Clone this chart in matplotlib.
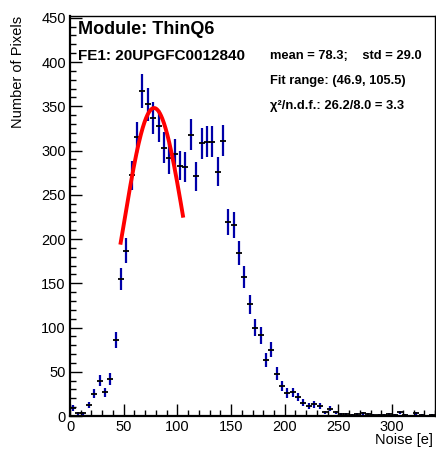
import numpy as np
import matplotlib
matplotlib.use("Agg")
import matplotlib.pyplot as plt
from matplotlib.ticker import MultipleLocator

plt.rcParams['font.family'] = ['Liberation Sans', 'DejaVu Sans']

# ---- data ----
bin_width = 5.0
bin_lo = 0.0
counts = [9, 3, 3, 12, 25, 40, 27, 42, 86, 155,
          187, 272, 315, 367, 352, 337, 328, 303, 291, 296,
          283, 281, 318, 271, 308, 310, 310, 276, 311, 219,
          216, 184, 157, 126, 100, 91, 63, 75, 48, 34,
          26, 27, 21, 15, 11, 13, 11, 4, 8, 4,
          2, 2, 1, 2, 3, 2, 1, 1, 1, 2,
          1, 4, 1, 0, 3, 1, 0, 1]
fit_amp = 348.0
fit_mean = 78.3
fit_sigma = 29.0
fit_range = (46.9, 105.5)
x_limits = (0, 340)
y_limits = (0, 452)
x_ticks = [0, 50, 100, 150, 200, 250, 300]
y_ticks = [0, 50, 100, 150, 200, 250, 300, 350, 400, 450]

W, H = 436, 455
fig = plt.figure(figsize=(W / 100, H / 100), dpi=100)

def fx(px):
    return px / W

def fy(py):
    return 1 - py / H

ax = fig.add_axes([fx(70), fy(416), fx(435) - fx(70), fy(16) - fy(416)])

counts = np.array(counts, dtype=float)
centers = bin_lo + bin_width * (np.arange(len(counts)) + 0.5)
mask = counts > 0
xc = centers[mask]
yc = counts[mask]
err = np.sqrt(yc)

ax.errorbar(xc, yc, yerr=err, fmt='none', ecolor='#0000a8', elinewidth=1.6, capsize=0, zorder=2)
ax.plot(xc, yc, ls='none', marker='_', color='black', ms=4, mew=1.3, zorder=3)

xf = np.linspace(fit_range[0], fit_range[1], 200)
yf = fit_amp * np.exp(-0.5 * ((xf - fit_mean) / fit_sigma) ** 2)
ax.plot(xf, yf, color='#ff0000', lw=2.8, zorder=4, solid_capstyle='butt')

ax.set_xlim(*x_limits)
ax.set_ylim(*y_limits)
ax.set_xticks(x_ticks)
ax.set_yticks(y_ticks)
ax.xaxis.set_minor_locator(MultipleLocator(10))
ax.yaxis.set_minor_locator(MultipleLocator(10))
ax.tick_params(which='both', direction='in', top=False, right=False, labelsize=10.5, width=1.0)
ax.tick_params(which='major', length=8.5, pad=3)
ax.tick_params(which='minor', length=4.3)
for s in ['left', 'bottom']:
    ax.spines[s].set_linewidth(1.6)
for s in ['top', 'right']:
    ax.spines[s].set_linewidth(1.0)

fig.text(fx(18), fy(16), 'Number of Pixels', rotation=90, ha='center', va='top', fontsize=10.5)
fig.text(fx(433), fy(440), 'Noise [e]', ha='right', va='center', fontsize=10.5)

fig.text(fx(78), fy(30), 'Module: ThinQ6', ha='left', va='center', fontsize=13, fontweight='bold')
fig.text(fx(78), fy(56), 'FE1: 20UPGFC0012840', ha='left', va='center', fontsize=11, fontweight='bold')
fig.text(fx(270), fy(56), 'mean = 78.3;    std = 29.0', ha='left', va='center', fontsize=9.3, fontweight='bold')
fig.text(fx(270), fy(81), 'Fit range: (46.9, 105.5)', ha='left', va='center', fontsize=9.3, fontweight='bold')
fig.text(fx(270), fy(106), 'χ²/n.d.f.: 26.2/8.0 = 3.3', ha='left', va='center', fontsize=9.3, fontweight='bold')

fig.savefig('out.png', dpi=100)
